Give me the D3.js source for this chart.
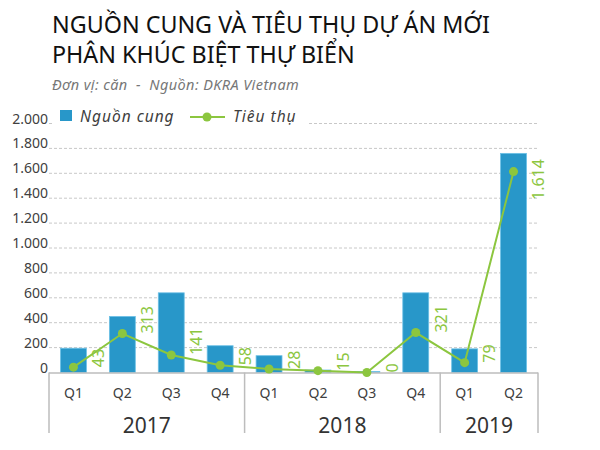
<!DOCTYPE html>
<html>
<head>
<meta charset="utf-8">
<script src="https://cdn.jsdelivr.net/npm/d3@7"></script>
<style>
  body { margin: 0; background: #fff; }
  text { font-family: "Noto Sans", sans-serif; }
</style>
</head>
<body>
<div id="chart"></div>
<script>
// data
var quarters = ["Q1", "Q2", "Q3", "Q4", "Q1", "Q2", "Q3", "Q4", "Q1", "Q2"];
var years = ["2017", "2017", "2017", "2017", "2018", "2018", "2018", "2018", "2019", "2019"];
var supply = [195, 450, 640, 215, 135, 20, 8, 640, 190, 1760];
var sales = [43, 313, 141, 58, 28, 15, 0, 321, 79, 1614];
var yTicks = [0, 200, 400, 600, 800, 1000, 1200, 1400, 1600, 1800, 2000];

var W = 600, H = 450;
var plotLeft = 49, plotRight = 538, plotTop = 123.5, plotBottom = 372.5;

var svg = d3.select("#chart").append("svg")
  .attr("width", W).attr("height", H);

var keys = quarters.map(function(q, i) { return years[i] + "-" + q; });

var x = d3.scaleBand()
  .domain(keys)
  .range([plotLeft, plotRight])
  .paddingInner(0.47)
  .paddingOuter(0.235);

var y = d3.scaleLinear()
  .domain([0, 2000])
  .range([plotBottom, plotTop]);

var fmt = function(v) { return d3.format(",")(v).replace(/,/g, "."); };

// title
svg.append("text").attr("x", 52).attr("y", 33)
  .attr("font-size", 23.3).attr("fill", "#111")
  .text("NGUỒN CUNG VÀ TIÊU THỤ DỰ ÁN MỚI");
svg.append("text").attr("x", 52).attr("y", 63)
  .attr("font-size", 23.3).attr("fill", "#111")
  .text("PHÂN KHÚC BIỆT THỰ BIỂN");
svg.append("text").attr("x", 52).attr("y", 90)
  .attr("font-size", 14.5).attr("font-style", "italic").attr("fill", "#777")
  .attr("letter-spacing", 0.4)
  .style("white-space", "pre")
  .text("Đơn vị: căn  -  Nguồn: DKRA Vietnam");

// grid
svg.append("g").selectAll("line")
  .data(yTicks.filter(function(d) { return d > 0; }))
  .enter().append("line")
    .attr("x1", plotLeft).attr("x2", plotRight)
    .attr("y1", function(d) { return y(d); })
    .attr("y2", function(d) { return y(d); })
    .attr("stroke", "#c8c8c8")
    .attr("stroke-dasharray", "3,2");

// y labels
svg.append("g").selectAll("text")
  .data(yTicks)
  .enter().append("text")
    .attr("x", plotLeft - 1)
    .attr("y", function(d) { return y(d); })
    .attr("text-anchor", "end")
    .attr("font-size", 14)
    .attr("fill", "#404040")
    .text(fmt);

// bars
svg.append("g").selectAll("rect")
  .data(supply)
  .enter().append("rect")
    .attr("x", function(d, i) { return x(keys[i]); })
    .attr("y", function(d) { return y(d); })
    .attr("width", x.bandwidth())
    .attr("height", function(d) { return plotBottom - y(d); })
    .attr("fill", "#2897c9")
    .attr("stroke", "#6cc0e6")
    .attr("stroke-width", 0.8);

// axis box
var axisG = svg.append("g").attr("stroke", "#bdbdbd").attr("stroke-width", 1.5);
axisG.append("line").attr("x1", plotLeft).attr("x2", plotRight)
  .attr("y1", plotBottom + 0.5).attr("y2", plotBottom + 0.5);
var yearList = Array.from(new Set(years));
var step = x.step();
var seps = [plotLeft];
yearList.forEach(function(yr) {
  var last = years.lastIndexOf(yr);
  seps.push(x(keys[last]) + x.bandwidth() / 2 + step / 2);
});
axisG.selectAll("line.sep").data(seps).enter().append("line")
  .attr("class", "sep")
  .attr("x1", function(d) { return d; }).attr("x2", function(d) { return d; })
  .attr("y1", plotBottom).attr("y2", 433);

// quarter labels
svg.append("g").selectAll("text")
  .data(quarters)
  .enter().append("text")
    .attr("x", function(d, i) { return x(keys[i]) + x.bandwidth() / 2; })
    .attr("y", 398)
    .attr("text-anchor", "middle")
    .attr("font-size", 14)
    .attr("fill", "#404040")
    .text(function(d) { return d; });

// year labels
svg.append("g").selectAll("text")
  .data(yearList)
  .enter().append("text")
    .attr("x", function(yr) {
      var a = x(keys[years.indexOf(yr)]), b = x(keys[years.lastIndexOf(yr)]) + x.bandwidth();
      return (a + b) / 2;
    })
    .attr("y", 433)
    .attr("text-anchor", "middle")
    .attr("font-size", 21)
    .attr("fill", "#333")
    .text(function(d) { return d; });

// line
var green = "#8cc63f";
var line = d3.line()
  .x(function(d, i) { return x(keys[i]) + x.bandwidth() / 2; })
  .y(function(d) { return y(d); });

svg.append("path")
  .datum(sales)
  .attr("d", line)
  .attr("fill", "none")
  .attr("stroke", green)
  .attr("stroke-width", 2);

svg.append("g").selectAll("circle")
  .data(sales)
  .enter().append("circle")
    .attr("cx", function(d, i) { return x(keys[i]) + x.bandwidth() / 2; })
    .attr("cy", function(d) { return y(d); })
    .attr("r", 4.5)
    .attr("fill", green);

// data labels
var maxSale = d3.max(sales);
svg.append("g").selectAll("text")
  .data(sales)
  .enter().append("text")
    .attr("transform", function(d, i) {
      var px = x(keys[i]) + x.bandwidth() / 2 + 25, py = y(d);
      if (d === maxSale) py += 8;
      return "translate(" + px + "," + py + ") rotate(-90)";
    })
    .attr("dy", "0.36em")
    .attr("text-anchor", function(d) { return d === maxSale ? "middle" : "start"; })
    .attr("font-size", 16)
    .attr("fill", green)
    .text(fmt);

// legend
var lg = svg.append("g");
lg.append("rect").attr("x", 52).attr("y", 105).attr("width", 255).attr("height", 24).attr("fill", "#fff");
lg.append("rect").attr("x", 60).attr("y", 110).attr("width", 12).attr("height", 11).attr("fill", "#2897c9");
lg.append("text").attr("x", 80).attr("y", 122).attr("font-size", 15.5).attr("font-style", "italic")
  .attr("letter-spacing", 1).attr("fill", "#404040").text("Nguồn cung");
lg.append("line").attr("x1", 190).attr("x2", 225).attr("y1", 117).attr("y2", 117)
  .attr("stroke", green).attr("stroke-width", 2);
lg.append("circle").attr("cx", 207).attr("cy", 117).attr("r", 4.5).attr("fill", green);
lg.append("text").attr("x", 233).attr("y", 122).attr("font-size", 15.5).attr("font-style", "italic")
  .attr("letter-spacing", 1).attr("fill", "#404040").text("Tiêu thụ");
</script>
</body>
</html>
